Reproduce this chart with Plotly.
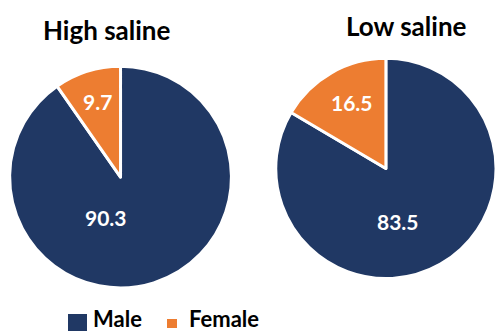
import plotly.graph_objects as go

# Sex distribution (%) under two salinity conditions
categories = ["Male", "Female"]
high_saline = [90.3, 9.7]
low_saline = [83.5, 16.5]
titles = ["High saline", "Low saline"]
colors = ["#203864", "#ED7D31"]

FONT = "Lato"
W, H = 496, 331


def px(x, y):
    """Pixel position -> paper coordinates."""
    return x / W, 1 - y / H


fig = go.Figure()

common = dict(
    labels=categories,
    sort=False,
    direction="clockwise",
    rotation=0,
    textinfo="none",
    marker=dict(colors=colors, line=dict(color="white", width=3)),
    hoverinfo="label+value",
    showlegend=False,
)

fig.add_trace(go.Pie(values=high_saline, name=titles[0],
                     domain=dict(x=[0.018, 0.468], y=[0.130, 0.800]),
                     **common))
fig.add_trace(go.Pie(values=low_saline, name=titles[1],
                     domain=dict(x=[0.556, 1.0], y=[0.157, 0.825]),
                     **common))

# Panel titles
for text, (x, y) in zip(titles, [(107, 30), (406, 26)]):
    ax, ay = px(x, y)
    fig.add_annotation(text="<b>" + text + "</b>", x=ax, y=ay, xref="paper", yref="paper",
                       xanchor="center", yanchor="middle", showarrow=False,
                       font=dict(family=FONT, size=26, color="black"))

# Slice value labels
label_pos = [
    [(106, 218), (97, 101)],
    [(398, 221), (352, 103)],
]
for vals, positions in zip([high_saline, low_saline], label_pos):
    for v, (x, y) in zip(vals, positions):
        ax, ay = px(x, y)
        fig.add_annotation(text="<b>%g</b>" % v, x=ax, y=ay, xref="paper", yref="paper",
                           xanchor="center", yanchor="middle", showarrow=False,
                           font=dict(family=FONT, size=21, color="white"))

# Legend keys
keys = [
    dict(box=(68, 314, 87, 331), text_x=91),
    dict(box=(167, 319, 177, 328), text_x=187),
]
for name, color, k in zip(categories, colors, keys):
    x0, y0, x1, y1 = k["box"]
    fig.add_shape(type="rect", xref="paper", yref="paper",
                  x0=x0 / W, x1=x1 / W, y0=1 - y1 / H, y1=1 - y0 / H,
                  fillcolor=color, line=dict(width=0))
    tx, ty = px(k["text_x"], 318)
    fig.add_annotation(text="<b>" + name + "</b>", x=tx, y=ty, xref="paper", yref="paper",
                       xanchor="left", yanchor="middle", showarrow=False,
                       font=dict(family=FONT, size=22, color="black"))

fig.update_layout(
    width=W, height=H,
    margin=dict(l=0, r=0, t=0, b=0),
    paper_bgcolor="white",
    plot_bgcolor="white",
    showlegend=False,
)

fig.write_html("out.html")
